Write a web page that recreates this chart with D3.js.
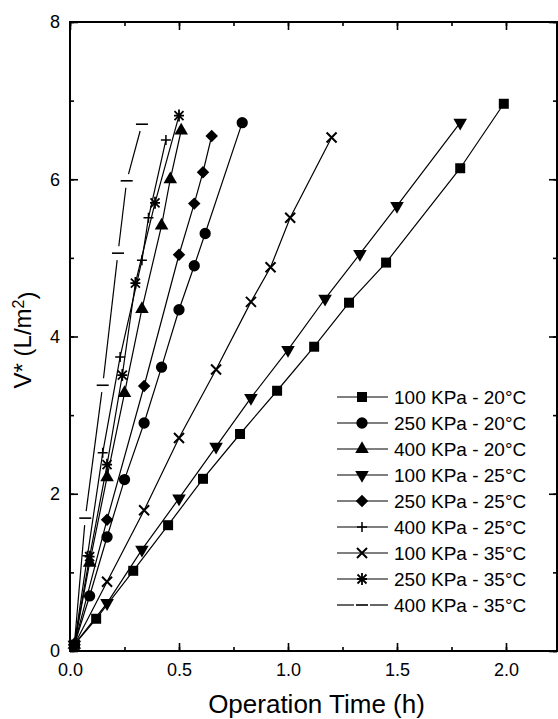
<!DOCTYPE html>
<html>
<head>
<meta charset="utf-8">
<script src="https://cdn.jsdelivr.net/npm/d3@7"></script>
<style>
  body { margin: 0; background: #fff; }
  text { font-family: "Liberation Sans", Arial, Helvetica, sans-serif; fill: #000; }
</style>
</head>
<body>
<div id="chart"></div>
<script>
// data: operation time (h) vs V* (L/m2)
var t100_20 = [0.02, 0.12, 0.29, 0.45, 0.61, 0.78, 0.95, 1.12, 1.28, 1.45, 1.79, 1.99];
var v100_20 = [0.08, 0.41, 1.02, 1.60, 2.19, 2.76, 3.31, 3.87, 4.43, 4.94, 6.14, 6.96];

var t250_20 = [0.02, 0.09, 0.17, 0.25, 0.34, 0.42, 0.50, 0.57, 0.62, 0.79];
var v250_20 = [0.08, 0.70, 1.45, 2.18, 2.90, 3.61, 4.34, 4.90, 5.31, 6.72];

var t400_20 = [0.02, 0.09, 0.17, 0.25, 0.33, 0.42, 0.46, 0.51];
var v400_20 = [0.08, 1.12, 2.21, 3.28, 4.35, 5.41, 6.00, 6.62];

var t100_25 = [0.02, 0.17, 0.33, 0.50, 0.67, 0.83, 1.00, 1.17, 1.33, 1.50, 1.79];
var v100_25 = [0.08, 0.61, 1.29, 1.94, 2.60, 3.22, 3.83, 4.48, 5.05, 5.66, 6.72];

var t250_25 = [0.02, 0.17, 0.34, 0.50, 0.57, 0.61, 0.65];
var v250_25 = [0.08, 1.67, 3.37, 5.04, 5.69, 6.09, 6.55];

var t400_25 = [0.02, 0.08, 0.15, 0.23, 0.33, 0.36, 0.44];
var v400_25 = [0.08, 1.21, 2.52, 3.74, 4.97, 5.51, 6.50];

var t100_35 = [0.02, 0.17, 0.34, 0.50, 0.67, 0.83, 0.92, 1.01, 1.20];
var v100_35 = [0.08, 0.88, 1.79, 2.71, 3.58, 4.44, 4.88, 5.51, 6.53];

var t250_35 = [0.02, 0.09, 0.17, 0.24, 0.30, 0.39, 0.50];
var v250_35 = [0.08, 1.20, 2.37, 3.51, 4.68, 5.70, 6.81];

var t400_35 = [0.02, 0.07, 0.15, 0.22, 0.26, 0.33];
var v400_35 = [0.08, 1.69, 3.38, 5.06, 5.98, 6.70];

var seriesLabels = ["100 KPa - 20°C", "250 KPa - 20°C", "400 KPa - 20°C",
                    "100 KPa - 25°C", "250 KPa - 25°C", "400 KPa - 25°C",
                    "100 KPa - 35°C", "250 KPa - 35°C", "400 KPa - 35°C"];
var seriesMarkers = ["square", "circle", "triUp", "triDown", "diamond", "plus", "cross", "star", "dash"];

var xTicks = [0, 0.5, 1.0, 1.5, 2.0];
var yTicks = [0, 2, 4, 6, 8];

var svgWidth = 558;
var svgHeight = 719;
var margin = { top: 22, right: 1, bottom: 68, left: 70 };
var width = svgWidth - margin.left - margin.right;
var height = svgHeight - margin.top - margin.bottom;

var svg = d3.select("#chart").append("svg")
  .attr("width", svgWidth)
  .attr("height", svgHeight);

var chartGroup = svg.append("g")
  .attr("transform", `translate(${margin.left}, ${margin.top})`);

var x = d3.scaleLinear().domain([0, 2.234]).range([0, width]);
var y = d3.scaleLinear().domain([0, 8]).range([height, 0]);

var allT = [t100_20, t250_20, t400_20, t100_25, t250_25, t400_25, t100_35, t250_35, t400_35];
var allV = [v100_20, v250_20, v400_20, v100_25, v250_25, v400_25, v100_35, v250_35, v400_35];
var series = allT.map(function(ts, i) {
  return {
    label: seriesLabels[i],
    marker: seriesMarkers[i],
    points: ts.map(function(t, j) { return { t: t, v: allV[i][j] }; })
  };
});

// axes, ticks pointing inward on all four sides
var minorX = d3.range(0, 2.25, 0.25);
var minorY = d3.range(0, 8.01, 1);

function styleAxis(g) {
  g.select(".domain").remove();
  g.selectAll("line").attr("stroke", "#000").attr("stroke-width", 1.6);
  g.selectAll("text").style("font-size", "18px").attr("fill", "#000");
}

chartGroup.append("g")
  .attr("transform", `translate(0, ${height})`)
  .call(d3.axisBottom(x).tickValues(minorX).tickSize(-4).tickFormat(""))
  .call(styleAxis);
chartGroup.append("g")
  .attr("transform", `translate(0, ${height})`)
  .call(d3.axisBottom(x).tickValues(xTicks).tickSize(-8).tickPadding(12).tickFormat(d3.format(".1f")))
  .call(styleAxis);

chartGroup.append("g")
  .call(d3.axisTop(x).tickValues(minorX).tickSize(-4).tickFormat(""))
  .call(styleAxis);
chartGroup.append("g")
  .call(d3.axisTop(x).tickValues(xTicks).tickSize(-8).tickFormat(""))
  .call(styleAxis);

chartGroup.append("g")
  .call(d3.axisLeft(y).tickValues(minorY).tickSize(-4).tickFormat(""))
  .call(styleAxis);
chartGroup.append("g")
  .call(d3.axisLeft(y).tickValues(yTicks).tickSize(-8).tickPadding(10).tickFormat(d3.format("d")))
  .call(styleAxis);

chartGroup.append("g")
  .attr("transform", `translate(${width}, 0)`)
  .call(d3.axisRight(y).tickValues(minorY).tickSize(-4).tickFormat(""))
  .call(styleAxis);
chartGroup.append("g")
  .attr("transform", `translate(${width}, 0)`)
  .call(d3.axisRight(y).tickValues(yTicks).tickSize(-8).tickFormat(""))
  .call(styleAxis);

// frame
chartGroup.append("rect")
  .attr("x", 0).attr("y", 0)
  .attr("width", width).attr("height", height)
  .attr("fill", "none")
  .attr("stroke", "#000")
  .attr("stroke-width", 2);

// marker drawing
function drawMarker(g, type) {
  if (type === "square") {
    g.append("path").attr("d", d3.symbol(d3.symbolSquare, 100)()).attr("fill", "#000");
  } else if (type === "circle") {
    g.append("path").attr("d", d3.symbol(d3.symbolCircle, 100)()).attr("fill", "#000");
  } else if (type === "triUp") {
    g.append("path").attr("d", d3.symbol(d3.symbolTriangle, 80)()).attr("fill", "#000");
  } else if (type === "triDown") {
    g.append("path").attr("d", d3.symbol(d3.symbolTriangle, 80)())
      .attr("transform", "rotate(180)").attr("fill", "#000");
  } else if (type === "diamond") {
    g.append("path").attr("d", d3.symbol(d3.symbolSquare, 78)())
      .attr("transform", "rotate(45)").attr("fill", "#000");
  } else if (type === "plus") {
    g.append("path").attr("d", "M-5,0H5M0,-5V5")
      .attr("stroke", "#000").attr("stroke-width", 1.5).attr("fill", "none");
  } else if (type === "cross") {
    g.append("path").attr("d", "M-5,-5L5,5M-5,5L5,-5")
      .attr("stroke", "#000").attr("stroke-width", 2).attr("fill", "none");
  } else if (type === "star") {
    g.append("path").attr("d", "M-5,0H5M0,-6V6M-4.5,-4.5L4.5,4.5M-4.5,4.5L4.5,-4.5")
      .attr("stroke", "#000").attr("stroke-width", 1.8).attr("fill", "none");
  } else if (type === "dash") {
    g.append("path").attr("d", "M-6,0H6")
      .attr("stroke", "#000").attr("stroke-width", 1.6).attr("fill", "none");
  }
}

var line = d3.line()
  .x(function(d) { return x(d.t); })
  .y(function(d) { return y(d.v); });

var plot = chartGroup.append("g");

series.forEach(function(s) {
  if (s.marker === "dash") {
    // the 400 KPa - 35°C curve: segments broken around each marker
    var gap = 7;
    for (var k = 0; k < s.points.length - 1; k++) {
      var x1 = x(s.points[k].t), y1 = y(s.points[k].v);
      var x2 = x(s.points[k + 1].t), y2 = y(s.points[k + 1].v);
      var len = Math.hypot(x2 - x1, y2 - y1);
      if (len <= 2 * gap) continue;
      var ux = (x2 - x1) / len, uy = (y2 - y1) / len;
      plot.append("line")
        .attr("x1", x1 + ux * gap).attr("y1", y1 + uy * gap)
        .attr("x2", x2 - ux * gap).attr("y2", y2 - uy * gap)
        .attr("stroke", "#000").attr("stroke-width", 1.2);
    }
  } else {
    plot.append("path")
      .datum(s.points)
      .attr("d", line)
      .attr("fill", "none")
      .attr("stroke", "#000")
      .attr("stroke-width", 1.2);
  }
  s.points.forEach(function(p) {
    var m = plot.append("g").attr("transform", `translate(${x(p.t)}, ${y(p.v)})`);
    drawMarker(m, s.marker);
  });
});

// legend
var legend = chartGroup.append("g")
  .attr("transform", `translate(${337 - margin.left}, ${397 - margin.top})`);

series.forEach(function(s, i) {
  var row = legend.append("g").attr("transform", `translate(0, ${i * 26})`);
  if (s.marker === "dash") {
    row.append("line").attr("x1", 0).attr("x2", 17).attr("y1", 0).attr("y2", 0)
      .attr("stroke", "#000").attr("stroke-width", 1.2);
    row.append("line").attr("x1", 33).attr("x2", 51).attr("y1", 0).attr("y2", 0)
      .attr("stroke", "#000").attr("stroke-width", 1.2);
  } else {
    row.append("line").attr("x1", 0).attr("x2", 51).attr("y1", 0).attr("y2", 0)
      .attr("stroke", "#000").attr("stroke-width", 1.2);
  }
  var m = row.append("g").attr("transform", "translate(25, 0)");
  drawMarker(m, s.marker);
  row.append("text")
    .attr("x", 57)
    .attr("y", 0)
    .attr("dy", "0.35em")
    .style("font-size", "19px")
    .text(s.label);
});

// axis titles
chartGroup.append("text")
  .attr("x", width / 2 + 3)
  .attr("y", height + 62)
  .attr("text-anchor", "middle")
  .style("font-size", "26px")
  .text("Operation Time (h)");

var yTitle = chartGroup.append("text")
  .attr("transform", "rotate(-90)")
  .attr("x", -318)
  .attr("y", -margin.left + 31)
  .attr("text-anchor", "middle")
  .style("font-size", "24px");
yTitle.append("tspan").text("V* (L/m");
yTitle.append("tspan").attr("dy", "-0.45em").style("font-size", "16px").text("2");
yTitle.append("tspan").attr("dy", "0.45em").text(")");
</script>
</body>
</html>
